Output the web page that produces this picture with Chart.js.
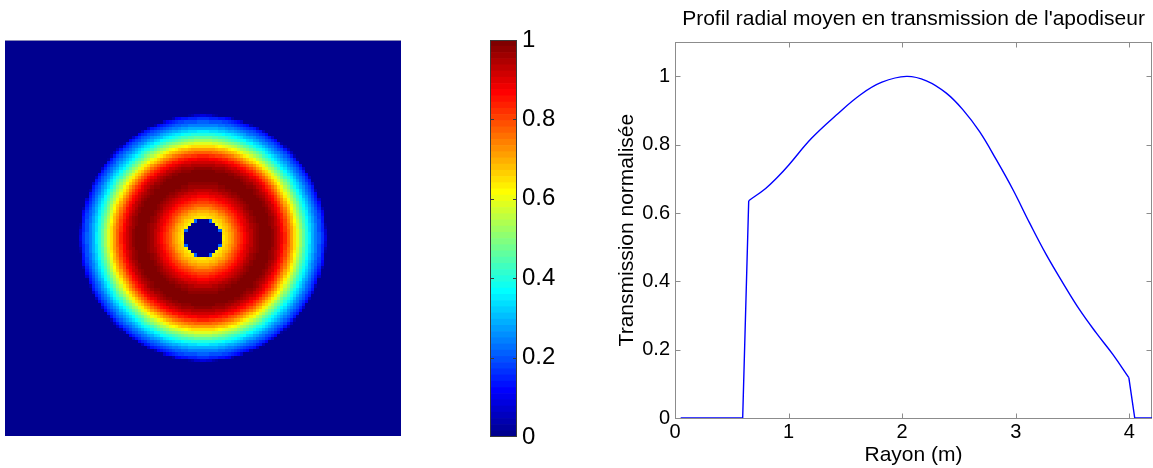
<!DOCTYPE html>
<html lang="fr">
<head>
<meta charset="utf-8">
<title>Profil radial moyen en transmission de l'apodiseur</title>
<script src="https://cdn.jsdelivr.net/npm/chart.js@4.4.1/dist/chart.umd.min.js"></script>
<style>
  body { margin: 0; background: #fff; }
  #wrap { position: relative; width: 1153px; height: 468px; overflow: hidden; }
  canvas { position: absolute; top: 0; }
  #mapChart { left: 0; }
  #barChart { left: 470px; }
  #profileChart { left: 600px; }
</style>
</head>
<body>
<div id="wrap">
  <canvas id="mapChart" width="410" height="468"></canvas>
  <canvas id="barChart" width="100" height="468"></canvas>
  <canvas id="profileChart" width="553" height="468"></canvas>
</div>
<script>
// mean radial profile (radius in m)
const radius = [0.05, 0.596, 0.649, 0.798, 0.90, 1.00, 1.20, 1.418, 1.636, 1.822, 2.038, 2.214, 2.389,
  2.536, 2.682, 2.829, 2.976, 3.122, 3.269, 3.416, 3.562, 3.709, 3.855, 3.996, 4.048, 4.20];
const transmission = [0, 0, 0.636, 0.672, 0.704, 0.740, 0.818, 0.886, 0.947, 0.983, 1.000, 0.987, 0.951,
  0.902, 0.838, 0.756, 0.668, 0.571, 0.478, 0.395, 0.317, 0.249, 0.186, 0.118, 0, 0];

const xTicks = [0, 1, 2, 3, 4];
const yTicks = [0, 0.2, 0.4, 0.6, 0.8, 1];
const colorbarTicks = [0, 0.2, 0.4, 0.6, 0.8, 1];

const mapExtent = 6.5;   // half width of the pupil image (m)
const mapCells = 128;    // image resolution
const colorLevels = 64;  // jet(64)

Chart.defaults.font.family = '"Liberation Sans", Arial, sans-serif';
Chart.defaults.color = '#000';
Chart.defaults.animation = false;
Chart.defaults.events = [];
Chart.defaults.plugins.legend.display = false;
Chart.defaults.plugins.tooltip.enabled = false;

const tickText = v => String(Math.round(v * 10) / 10);

// matlab jet colormap, 64 levels
function jet(t) {
  const k = Math.min(colorLevels - 1, Math.max(0, Math.floor(t * colorLevels)));
  const v = (k + 1) / colorLevels;
  const c = s => Math.round(255 * Math.min(1, Math.max(0, 1.5 - Math.abs(4 * v - s))));
  return `rgb(${c(3)},${c(2)},${c(1)})`;
}

function profileAt(r) {
  if (r <= radius[0] || r >= radius[radius.length - 1]) return 0;
  for (let i = 1; i < radius.length; i++) {
    if (r <= radius[i]) {
      const f = (r - radius[i - 1]) / (radius[i] - radius[i - 1]);
      return transmission[i - 1] + f * (transmission[i] - transmission[i - 1]);
    }
  }
  return 0;
}

// ---- pupil image ----
const pupilPlugin = {
  id: 'pupil',
  beforeDatasetsDraw(chart) {
    const {ctx, scales: {x, y}} = chart;
    const d = 2 * mapExtent / mapCells;
    ctx.save();
    for (let i = 0; i < mapCells; i++) {
      const x0 = Math.round(x.getPixelForValue(-mapExtent + i * d));
      const x1 = Math.round(x.getPixelForValue(-mapExtent + (i + 1) * d));
      const cx = -mapExtent + (i + 0.5) * d;
      for (let j = 0; j < mapCells; j++) {
        const y0 = Math.round(y.getPixelForValue(-mapExtent + j * d));
        const y1 = Math.round(y.getPixelForValue(-mapExtent + (j + 1) * d));
        const cy = -mapExtent + (j + 0.5) * d;
        ctx.fillStyle = jet(profileAt(Math.hypot(cx, cy)));
        ctx.fillRect(x0, y1, x1 - x0, y0 - y1);
      }
    }
    const a = chart.chartArea;
    ctx.strokeStyle = '#8a8ab8';
    ctx.lineWidth = 1;
    ctx.beginPath();
    ctx.moveTo(a.left, Math.round(a.top) + 0.5);
    ctx.lineTo(a.right, Math.round(a.top) + 0.5);
    ctx.stroke();
    ctx.restore();
  }
};

new Chart(document.getElementById('mapChart'), {
  type: 'scatter',
  data: { datasets: [{ data: [] }] },
  options: {
    responsive: false,
    layout: { padding: { left: 5, top: 40, right: 9, bottom: 32 } },
    scales: {
      x: { type: 'linear', min: -mapExtent, max: mapExtent, display: false },
      y: { type: 'linear', min: -mapExtent, max: mapExtent, display: false }
    }
  },
  plugins: [pupilPlugin]
});

// ---- colorbar ----
const levelIdx = Array.from({ length: colorLevels }, (_, k) => k);

const colorbarPlugin = {
  id: 'colorbarBox',
  afterDatasetsDraw(chart) {
    const {ctx, chartArea: a, scales: {y}} = chart;
    ctx.save();
    ctx.strokeStyle = '#3a3a3a';
    ctx.lineWidth = 1;
    ctx.strokeRect(Math.round(a.left) + 0.5, Math.round(a.top) + 0.5,
      Math.round(a.right - a.left) - 1, Math.round(a.bottom - a.top) - 1);
    ctx.beginPath();
    colorbarTicks.slice(1, -1).forEach(v => {
      const py = Math.round(y.getPixelForValue(v)) + 0.5;
      ctx.moveTo(a.left, py); ctx.lineTo(a.left + 4, py);
      ctx.moveTo(a.right, py); ctx.lineTo(a.right - 4, py);
    });
    ctx.stroke();
    ctx.restore();
  }
};

new Chart(document.getElementById('barChart'), {
  type: 'bar',
  data: {
    labels: [''],
    datasets: levelIdx.map(k => ({
      data: [[k / colorLevels, (k + 1) / colorLevels]],
      backgroundColor: jet(k / colorLevels),
      borderWidth: 0,
      grouped: false,
      barPercentage: 1,
      categoryPercentage: 1
    }))
  },
  options: {
    responsive: false,
    layout: { padding: { left: 20, top: 40, right: 0, bottom: 31 } },
    scales: {
      x: { display: false },
      y: {
        position: 'right', min: 0, max: 1,
        afterBuildTicks: s => { s.ticks = colorbarTicks.map(v => ({ value: v })); },
        afterFit: s => { s.width = 53; },
        grid: { display: false, drawTicks: false },
        border: { display: false },
        ticks: { font: { size: 24 }, padding: 5, color: '#000', callback: tickText }
      }
    }
  },
  plugins: [colorbarPlugin]
});

// ---- radial profile ----
const axesBoxPlugin = {
  id: 'axesBox',
  beforeDatasetsDraw(chart) {
    const {ctx, chartArea: a, scales: {x, y}} = chart;
    const L = Math.round(a.left) + 0.5, R = Math.round(a.right) - 0.5;
    const T = Math.round(a.top) + 0.5, B = Math.round(a.bottom) + 0.5;
    ctx.save();
    ctx.strokeStyle = '#8c8c8c';
    ctx.lineWidth = 1;
    ctx.strokeRect(L, T, R - L, B - T);
    ctx.beginPath();
    xTicks.forEach(v => {
      const px = Math.round(x.getPixelForValue(v)) + 0.5;
      ctx.moveTo(px, B); ctx.lineTo(px, B - 5);
      ctx.moveTo(px, T); ctx.lineTo(px, T + 5);
    });
    yTicks.forEach(v => {
      const py = Math.round(y.getPixelForValue(v)) + 0.5;
      ctx.moveTo(L, py); ctx.lineTo(L + 5, py);
      ctx.moveTo(R, py); ctx.lineTo(R - 5, py);
    });
    ctx.stroke();
    ctx.restore();
  }
};

// the curve has two hard edges (inner and outer rim): keep those straight, smooth the rest
const points = radius.map((r, i) => ({ x: r, y: transmission[i] }));
const innerEdge = radius.indexOf(0.649);
const outerEdge = radius.indexOf(3.996);
const lineStyle = { borderColor: '#0000ff', borderWidth: 1.4, pointRadius: 0, fill: false };

new Chart(document.getElementById('profileChart'), {
  type: 'line',
  data: {
    datasets: [
      { ...lineStyle, data: points.slice(0, innerEdge + 1), tension: 0 },
      { ...lineStyle, data: points.slice(innerEdge, outerEdge + 1), tension: 0.4 },
      { ...lineStyle, data: points.slice(outerEdge), tension: 0 }
    ]
  },
  options: {
    responsive: false,
    layout: { padding: { left: 0, top: 0, right: 1, bottom: 0 } },
    plugins: {
      title: {
        display: true,
        text: "Profil radial moyen en transmission de l'apodiseur",
        fullSize: false,
        font: { size: 21, weight: 'normal' },
        color: '#000',
        padding: { top: 7, bottom: 10 }
      }
    },
    scales: {
      x: {
        type: 'linear', min: 0, max: 4.2,
        afterBuildTicks: s => { s.ticks = xTicks.map(v => ({ value: v })); },
        afterFit: s => { s.height = 50; },
        grid: { display: false, drawTicks: false },
        border: { display: false },
        ticks: { font: { size: 20 }, padding: 2, color: '#000', maxRotation: 0, callback: tickText },
        title: { display: true, text: 'Rayon (m)', font: { size: 21 }, color: '#000', padding: { top: 0, bottom: 0 } }
      },
      y: {
        type: 'linear', min: 0, max: 1.1,
        afterBuildTicks: s => { s.ticks = yTicks.map(v => ({ value: v })); },
        afterFit: s => { s.width = 75; },
        grid: { display: false, drawTicks: false },
        border: { display: false },
        ticks: { font: { size: 20 }, padding: 5, color: '#000', callback: tickText },
        title: { display: true, text: 'Transmission normalisée', font: { size: 21 }, color: '#000', padding: { top: 15, bottom: 0 } }
      }
    }
  },
  plugins: [axesBoxPlugin]
});
</script>
</body>
</html>
